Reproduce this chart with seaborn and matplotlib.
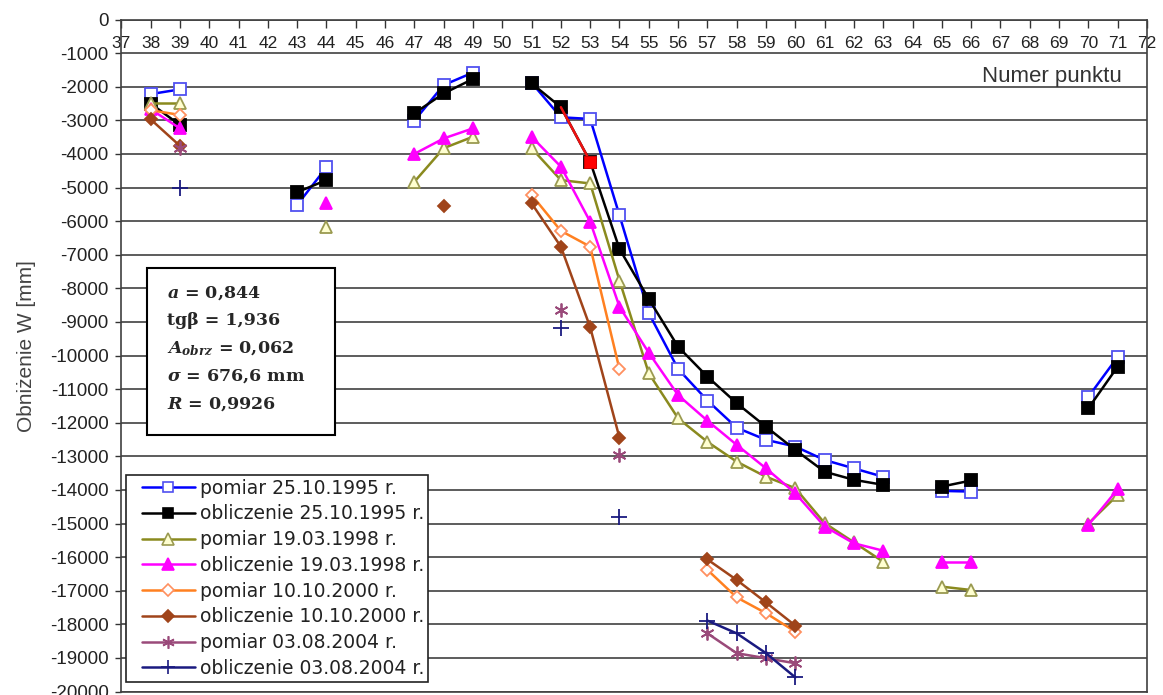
import numpy as np
import pandas as pd
import seaborn as sns
import matplotlib.pyplot as plt
from matplotlib.lines import Line2D
from matplotlib.patches import Rectangle
from matplotlib.legend_handler import HandlerLine2D

nan = np.nan

# numery punktów (oś X)
punkty = [38, 39, 43, 44, 47, 48, 49, 51, 52, 53, 54, 55, 56, 57, 58, 59, 60, 61, 62, 63, 65, 66, 70, 71]

# obniżenia W [mm] dla kolejnych punktów
pom_1995 = [-2220, -2080, -5520, -4400, -3010, -1950, -1580, -1880, -2910, -2960, -5830, -8740,
            -10400, -11340, -12150, -12510, -12710, -13110, -13360, -13610, -14030, -14050, -11230, -10040]
obl_1995 = [-2500, -3140, -5140, -4780, -2790, -2200, -1770, -1900, -2610, -4230, -6830, -8320,
            -9740, -10630, -11420, -12120, -12810, -13460, -13700, -13850, -13900, -13720, -11570, -10330]
pom_1998 = [-2480, -2480, nan, -6170, -4830, -3830, -3490, -3830, -4780, -4880, -7770, -10530,
            -11870, -12570, -13160, -13610, -13950, -14990, -15560, -16140, -16880, -16980, -15000, -14150]
obl_1998 = [-2670, -3240, nan, -5470, -4000, -3540, -3240, -3490, -4380, -6020, -8550, -9920,
            -11180, -11940, -12660, -13360, -14100, -15090, -15590, -15810, -16140, -16140, -15040, -13980]
pom_2000 = [-2700, -2840, nan, nan, nan, nan, nan, -5220, -6290, -6760, -10410, nan,
            nan, -16380, -17200, -17670, -18220, nan, nan, nan, nan, nan, nan, nan]
obl_2000 = [-2970, -3760, nan, nan, nan, -5550, nan, -5470, -6760, -9160, -12450, nan,
            nan, -16070, -16680, -17350, -18040, nan, nan, nan, nan, nan, nan, nan]
pom_2004 = [nan, -3830, nan, nan, nan, nan, nan, nan, -8650, nan, -12960, nan,
            nan, -18270, -18860, -19010, -19160, nan, nan, nan, nan, nan, nan, nan]
obl_2004 = [nan, -5020, nan, nan, nan, nan, nan, nan, -9170, nan, -14820, nan,
            nan, -17890, -18270, -18860, -19580, nan, nan, nan, nan, nan, nan, nan]

# wyróżniony punkt obliczeniowy (czerwony odcinek 52-53)
red_punkty = [52, 53]
red_w = [-2610, -4230]

serie = [
    ("pomiar 25.10.1995 r.", pom_1995,
     dict(color="#0000FF", marker="s", mfc="white", mec="#5050F0", ms=8)),
    ("obliczenie 25.10.1995 r.", obl_1995,
     dict(color="black", marker="s", mfc="black", mec="black", ms=8)),
    ("pomiar 19.03.1998 r.", pom_1998,
     dict(color="#8A8A1E", marker="^", mfc="#FFFFD0", mec="#9A9A50", ms=9)),
    ("obliczenie 19.03.1998 r.", obl_1998,
     dict(color="#FF00FF", marker="^", mfc="#FF00FF", mec="#FF00FF", ms=9)),
    ("pomiar 10.10.2000 r.", pom_2000,
     dict(color="#FF8020", marker="D", mfc="white", mec="#FF9060", ms=6.5)),
    ("obliczenie 10.10.2000 r.", obl_2000,
     dict(color="#A0441A", marker="D", mfc="#A0441A", mec="#A0441A", ms=6.5)),
    ("pomiar 03.08.2004 r.", pom_2004,
     dict(color="#9A4A7A", marker=(6, 2, 0), mfc="#9A4A7A", mec="#9A4A7A", ms=10)),
    ("obliczenie 03.08.2004 r.", obl_2004,
     dict(color="#1A1A80", marker="+", mfc="#1A1A80", mec="#1A1A80", ms=11)),
]


def na_odcinki(x, y):
    # linia przerywa się przy braku wartości lub przeskoku numeru punktu
    rows, seg, prev = [], 0, None
    for xi, yi in zip(x, y):
        if np.isnan(yi):
            prev = None
            continue
        if prev is None or xi - prev > 1:
            seg += 1
        rows.append((xi, yi, seg))
        prev = xi
    return pd.DataFrame(rows, columns=["punkt", "W", "odcinek"])


sns.set_theme(style="white")
plt.rcParams["font.family"] = ["Liberation Sans", "DejaVu Sans"]
plt.rcParams["axes.unicode_minus"] = False
plt.rcParams["mathtext.fontset"] = "custom"
plt.rcParams["mathtext.it"] = "DejaVu Serif:italic:bold"
plt.rcParams["mathtext.rm"] = "DejaVu Serif:bold"
plt.rcParams["mathtext.bf"] = "DejaVu Serif:bold"

fig = plt.figure(figsize=(11.63, 6.95), dpi=100)
ax = fig.add_axes([121.3 / 1163, 3.5 / 695, 1025.7 / 1163, 672 / 695])

handles = []
for nazwa, wart, st in serie:
    df = na_odcinki(punkty, wart)
    sns.lineplot(data=df, x="punkt", y="W", units="odcinek", estimator=None, sort=False,
                 color=st["color"], marker=st["marker"], markerfacecolor=st["mfc"],
                 markeredgecolor=st["mec"], markersize=st["ms"], markeredgewidth=1.3,
                 linewidth=1.8, ax=ax, legend=False)
    handles.append(Line2D([], [], color=st["color"], marker=st["marker"], markerfacecolor=st["mfc"],
                          markeredgecolor=st["mec"], markersize=st["ms"] * 0.9,
                          markeredgewidth=1.2, linewidth=1.8, label=nazwa))

sns.lineplot(x=red_punkty, y=red_w, color="#EE1111", marker="s", markevery=[1],
             markerfacecolor="#FF0000", markeredgecolor="#CC0000", markersize=8,
             linewidth=1.8, ax=ax, legend=False)

ax.set_xlim(37, 72)
ax.set_ylim(-20000, 0)
ax.set_xticks(range(37, 73))
ax.set_yticks(range(-20000, 1, 1000))
ax.xaxis.set_ticks_position("top")
ax.tick_params(axis="x", direction="in", length=6, width=1, color="#333333",
               pad=-23, labelsize=12.5, labelcolor="#222222")
ax.tick_params(axis="y", left=True, direction="out", length=4, width=1, color="#333333",
               pad=5, labelsize=13.5, labelcolor="#222222")
ax.yaxis.grid(True, color="#303030", linewidth=1.1)
ax.xaxis.grid(False)
for s in ax.spines.values():
    s.set_color("#404040")
    s.set_linewidth(1.2)

ax.set_xlabel("")
ax.set_ylabel("Obniżenie W [mm]", fontsize=15, color="#444444")
ax.yaxis.set_label_coords(-0.083, 0.514)

ax.text(0.9756, 0.915, "Numer punktu", transform=ax.transAxes, ha="right", va="center",
        fontsize=16, color="#333333")

# ramka z parametrami
ax.add_patch(Rectangle((0.0248, 0.381), 0.184, 0.249, transform=ax.transAxes,
                       facecolor="white", edgecolor="black", linewidth=1.5, zorder=5))
parametry = [r"$a$ = 0,844", "tgβ = 1,936", r"$A_{obrz}$ = 0,062",
             r"$\sigma$ = 676,6 mm", r"$R$ = 0,9926"]
for i, t in enumerate(parametry):
    ax.text(0.0443, 0.5935 - i * 0.0415, t, transform=ax.transAxes, ha="left", va="center",
            fontsize=12.5, fontweight="bold", family="DejaVu Serif", zorder=6)

leg = ax.legend(handles=handles, loc="lower left", bbox_to_anchor=(0.0046, 0.0146),
                borderaxespad=0, prop={"family": "DejaVu Sans", "size": 13.5},
                handlelength=3.47, handletextpad=0.27, labelspacing=0.36, borderpad=0.2,
                fancybox=False, framealpha=1, edgecolor="#222222",
                handler_map={Line2D: HandlerLine2D(numpoints=1, xpad=0.64)})
leg.get_frame().set_linewidth(1.2)
for t in leg.get_texts():
    t.set_color("#222222")

fig.savefig("out.png", dpi=100)
